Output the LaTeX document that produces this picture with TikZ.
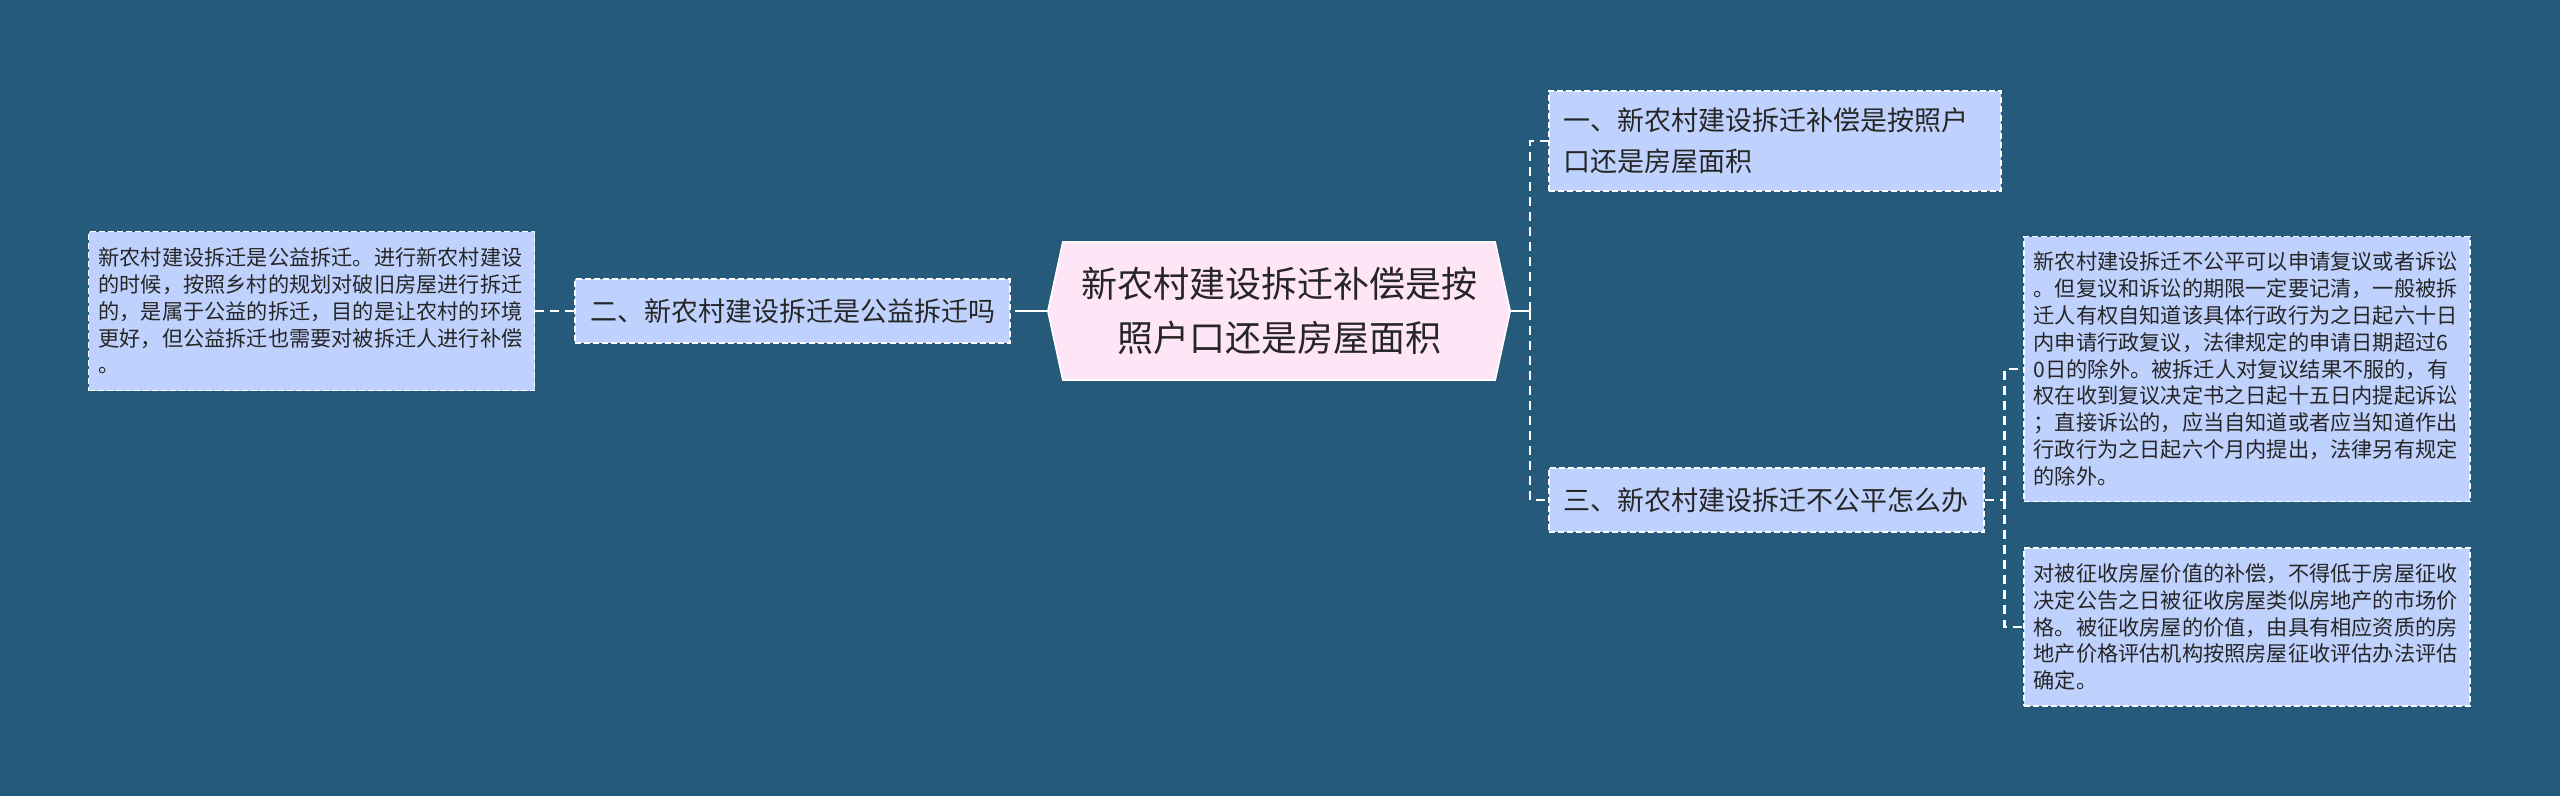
\documentclass[tikz,border=0pt]{standalone}
\usepackage{fontspec}
\usepackage{xcolor}
\usepackage{tikz}
\usetikzlibrary{positioning}
\newfontfamily\cjk{Noto Sans CJK SC}
\definecolor{bgblue}{HTML}{255A7B}
\definecolor{boxblue}{HTML}{BFD1FD}
\definecolor{rootpink}{HTML}{FFE6F6}
\definecolor{inkdark}{HTML}{262626}
\pgfdeclarelayer{back}
\pgfsetlayers{back,main}

\begin{document}
\begin{tikzpicture}[x=1pt, y=-1pt,
  topic/.style={draw=white, line width=1.5pt, dash pattern=on 6pt off 3pt,
    fill=boxblue, text=inkdark, inner xsep=15pt, inner ysep=0pt, align=left,
    font=\cjk\fontsize{27}{41}\selectfont},
  leaf/.style={topic, inner xsep=10pt, text width=426pt,
    font=\cjk\fontsize{21.2}{26.8}\selectfont},
  rootbox/.style={minimum width=462pt, minimum height=138pt, inner sep=0pt,
    align=center, text=inkdark, font=\cjk\fontsize{36}{54}\selectfont},
  link/.style={draw=white, line width=2.2pt, dash pattern=on 9pt off 6pt},
  stub/.style={draw=white, line width=2.2pt}]
\useasboundingbox (0,0) rectangle (2560,796);

% centre and first level
\node[rootbox] (root) at (1279,311) {新农村建设拆迁补偿是按\\照户口还是房屋面积};
\node[topic, text width=422pt, minimum height=100pt, anchor=west] (q1) at (1548,141)
  {一、新农村建设拆迁补偿是按照户\\口还是房屋面积};
\node[topic, minimum height=64pt, left=37pt of root] (q2) {二、新农村建设拆迁是公益拆迁吗};
\node[topic, minimum height=64pt, anchor=west] (q3) at (1548,500) {三、新农村建设拆迁不公平怎么办};

% answers
\node[leaf, minimum height=159pt, left=39pt of q2] (a2) {新农村建设拆迁是公益拆迁。进行新农村建设\\
  的时候，按照乡村的规划对破旧房屋进行拆迁\\
  的，是属于公益的拆迁，目的是让农村的环境\\
  更好，但公益拆迁也需要对被拆迁人进行补偿\\
  。};
\node[leaf, minimum height=265pt, anchor=west] (a3a) at (2023,369) {新农村建设拆迁不公平可以申请复议或者诉讼\\
  。但复议和诉讼的期限一定要记清，一般被拆\\
  迁人有权自知道该具体行政行为之日起六十日\\
  内申请行政复议，法律规定的申请日期超过6\\
  0日的除外。被拆迁人对复议结果不服的，有\\
  权在收到复议决定书之日起十五日内提起诉讼\\
  ；直接诉讼的，应当自知道或者应当知道作出\\
  行政行为之日起六个月内提出，法律另有规定\\
  的除外。};
\node[leaf, minimum height=158pt, anchor=west] (a3b) at (2023,627) {对被征收房屋价值的补偿，不得低于房屋征收\\
  决定公告之日被征收房屋类似房地产的市场价\\
  格。被征收房屋的价值，由具有相应资质的房\\
  地产价格评估机构按照房屋征收评估办法评估\\
  确定。};

\begin{pgfonlayer}{back}
  \fill[bgblue] (0,0) rectangle (2560,796);
  \filldraw[fill=rootpink, draw=white, line width=1.5pt]
    ([xshift=15pt]root.north west) -- ([xshift=-15pt]root.north east) -- (root.east)
    -- ([xshift=-15pt]root.south east) -- ([xshift=15pt]root.south west) -- (root.west) -- cycle;
\end{pgfonlayer}

% connectors
\coordinate (rj) at ([xshift=20pt]root.east);
\coordinate (lj) at ([xshift=-24pt]root.west);
\coordinate (qj) at ([xshift=20pt]q3.east);
\draw[stub] (root.east) -- (rj);
\draw[link] (rj) |- (q1.west);
\draw[link] (rj) |- (q3.west);
\draw[stub] (root.west) -- (lj);
\draw[link] (lj) -- (q2.east);
\draw[link] (q2.west) -- (a2.east);
\draw[link] (q3.east) -- (qj);
\draw[link] (qj) |- (a3a.west);
\draw[link] (qj) |- (a3b.west);
\end{tikzpicture}
\end{document}
